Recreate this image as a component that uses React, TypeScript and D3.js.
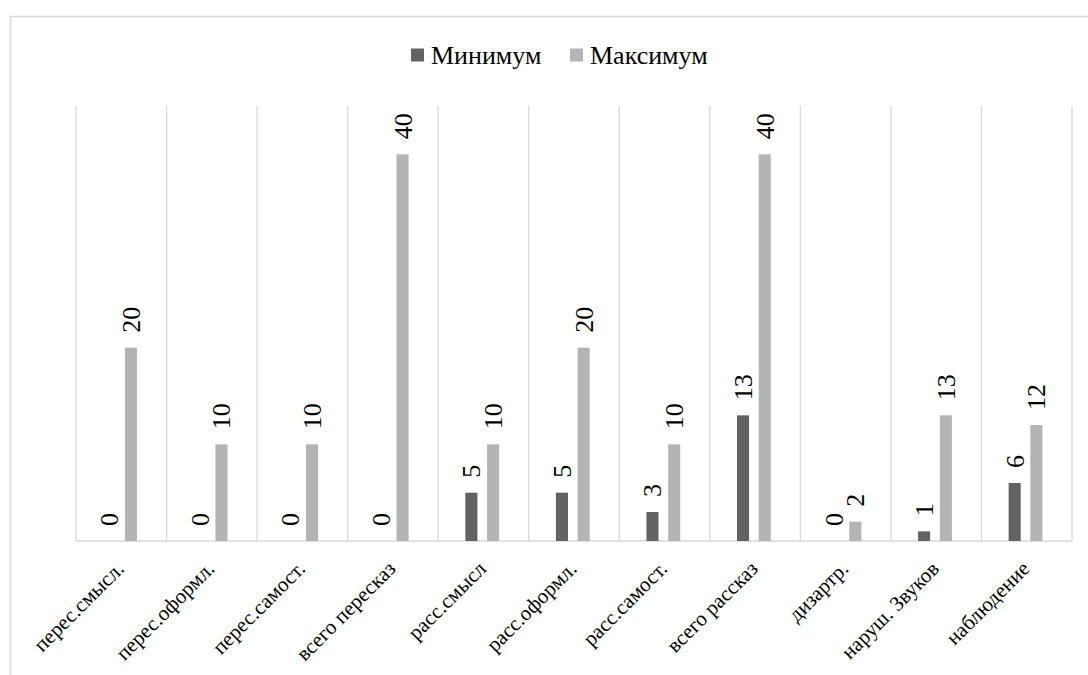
import * as d3 from 'd3';

const categories = [
  'перес.смысл.',
  'перес.оформл.',
  'перес.самост.',
  'всего пересказ',
  'расс.смысл',
  'расс.оформл.',
  'расс.самост.',
  'всего рассказ',
  'дизартр.',
  'наруш. Звуков',
  'наблюдение',
];
const minValues = [0, 0, 0, 0, 5, 5, 3, 13, 0, 1, 6];
const maxValues = [20, 10, 10, 40, 10, 20, 10, 40, 2, 13, 12];
const seriesNames = ['Минимум', 'Максимум'];
const colors = ['#636363', '#b4b4b4'];

const W = 1088;
const H = 675;
const plot = { left: 76, right: 1072, top: 106, bottom: 541 };
const font = 'Liberation Serif, Times New Roman, Tinos, serif';

export default function App() {
  const x = d3.scaleBand<string>()
    .domain(categories)
    .range([plot.left, plot.right]);
  const y = d3.scaleLinear().domain([0, 45]).range([plot.bottom, plot.top]);

  // two bars per category, gap between them equal to bar width
  const barW = x.bandwidth() * 0.1333;
  const inner = d3.scaleBand<number>()
    .domain([0, 1])
    .range([0, barW * 3])
    .paddingInner(1 / 3)
    .paddingOuter(0);
  const offset = (x.bandwidth() - barW * 3) / 2;

  const series = [minValues, maxValues];
  const boundaries = d3.range(categories.length + 1).map(i =>
    i < categories.length ? x(categories[i])! : plot.right
  );

  return (
    <svg width={W} height={H} style={{ position: 'absolute', left: 0, top: 0, fontFamily: font }}>
      <rect x={0} y={0} width={W} height={H} fill="#fff" />
      {/* chart border */}
      <rect x={10.5} y={16.5} width={W + 20} height={H + 20} fill="none" stroke="#d9d9d9" strokeWidth={1.5} />

      {/* vertical gridlines */}
      {boundaries.map((bx, i) => (
        <line key={i} x1={bx} x2={bx} y1={plot.top} y2={plot.bottom} stroke="#d9d9d9" strokeWidth={1.3} />
      ))}
      <line x1={plot.left} x2={plot.right} y1={plot.bottom} y2={plot.bottom} stroke="#d9d9d9" strokeWidth={1.5} />

      {/* bars */}
      {series.map((vals, s) =>
        vals.map((v, i) => {
          const bx = x(categories[i])! + offset + inner(s)!;
          return (
            <rect key={`${s}-${i}`} x={bx} y={y(v)} width={barW} height={plot.bottom - y(v)} fill={colors[s]} />
          );
        })
      )}

      {/* value labels */}
      {series.map((vals, s) =>
        vals.map((v, i) => {
          const cx = x(categories[i])! + offset + inner(s)! + barW / 2;
          const ty = y(v) - 15;
          return (
            <text
              key={`l${s}-${i}`}
              transform={`translate(${cx + 9},${ty}) rotate(-90)`}
              fontSize={26}
              fill="#000"
            >
              {v}
            </text>
          );
        })
      )}

      {/* category labels */}
      {categories.map(c => {
        const cx = x(c)! + x.bandwidth() / 2;
        return (
          <text
            key={c}
            transform={`translate(${cx + 4},${plot.bottom + 29}) rotate(-45)`}
            textAnchor="end"
            fontSize={21}
            fill="#000"
          >
            {c}
          </text>
        );
      })}

      {/* legend */}
      <g>
        <rect x={411} y={48.5} width={13} height={13} fill={colors[0]} />
        <text x={431} y={64} fontSize={26} fill="#000">{seriesNames[0]}</text>
        <rect x={570} y={48.5} width={13} height={13} fill={colors[1]} />
        <text x={590} y={64} fontSize={26} fill="#000">{seriesNames[1]}</text>
      </g>
    </svg>
  );
}
